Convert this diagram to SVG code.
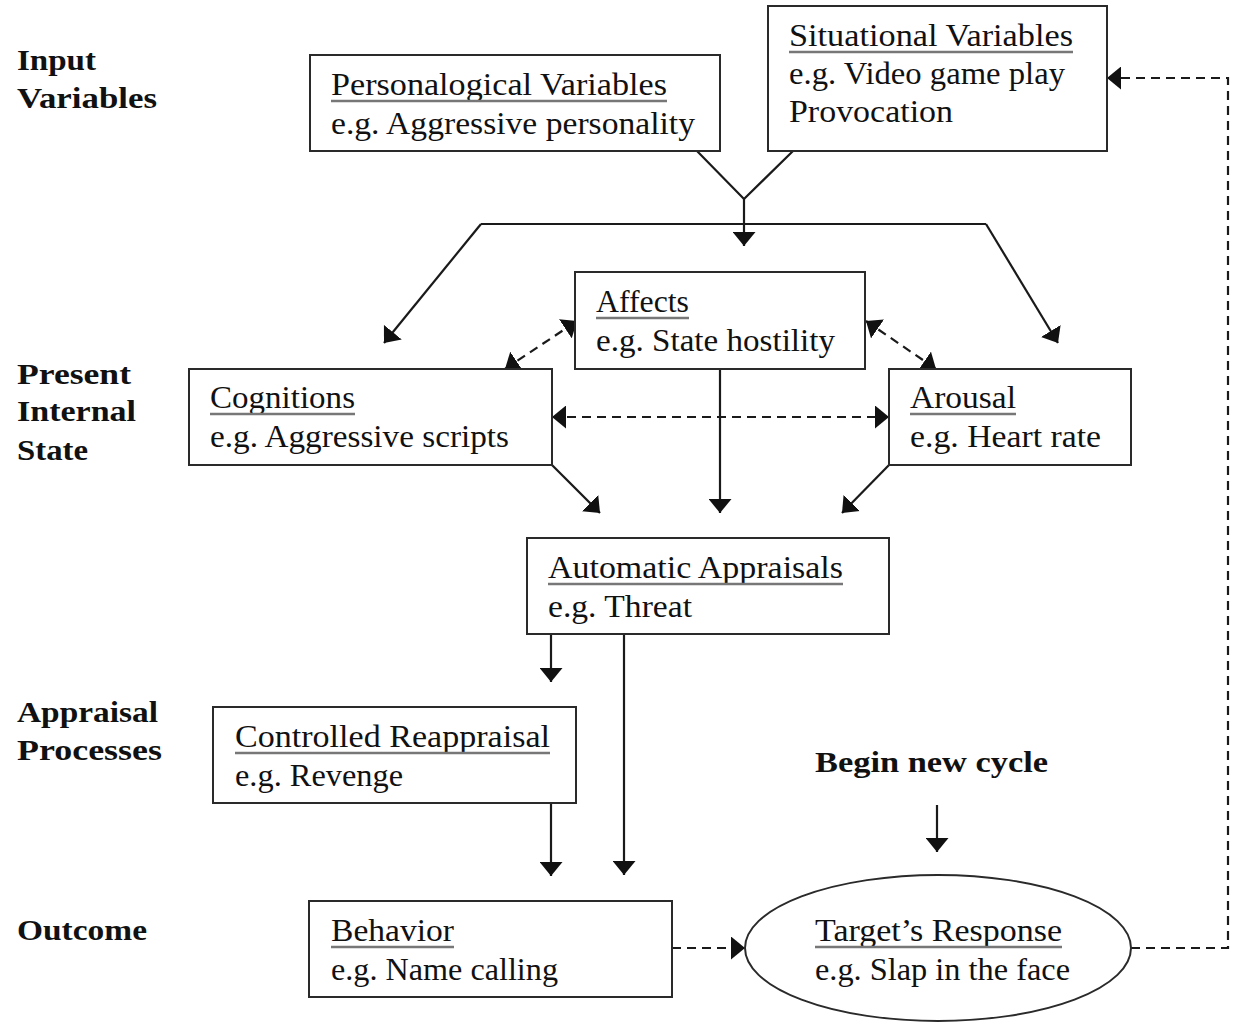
<svg xmlns="http://www.w3.org/2000/svg" width="1235" height="1026" viewBox="0 0 1235 1026">
<style>
.box{fill:#fff;stroke:#2a2a2a;stroke-width:2}
.t{font-family:"Liberation Serif","Times New Roman",serif;font-size:31px;fill:#111}
.b{font-family:"Liberation Serif","Times New Roman",serif;font-size:30px;font-weight:bold;fill:#111}
.ul{stroke:#777;stroke-width:2.5}
.ln{fill:none;stroke:#1a1a1a;stroke-width:2.2}
.ds{fill:none;stroke:#1a1a1a;stroke-width:2.2;stroke-dasharray:9 6}
</style>
<defs>
<marker id="ah" viewBox="0 0 14 23" refX="14" refY="11.5" markerWidth="14" markerHeight="23" markerUnits="userSpaceOnUse" orient="auto-start-reverse">
<path d="M0,0 L14,11.5 L0,23 z" fill="#111"/>
</marker>
</defs>
<rect width="1235" height="1026" fill="#fff"/>

<g id="labels">
<text class="b" x="17" y="70" textLength="79" lengthAdjust="spacingAndGlyphs">Input</text>
<text class="b" x="17" y="108" textLength="140" lengthAdjust="spacingAndGlyphs">Variables</text>
<text class="b" x="17" y="384" textLength="114" lengthAdjust="spacingAndGlyphs">Present</text>
<text class="b" x="17" y="421" textLength="119" lengthAdjust="spacingAndGlyphs">Internal</text>
<text class="b" x="17" y="460" textLength="71" lengthAdjust="spacingAndGlyphs">State</text>
<text class="b" x="17" y="722" textLength="141" lengthAdjust="spacingAndGlyphs">Appraisal</text>
<text class="b" x="17" y="760" textLength="145" lengthAdjust="spacingAndGlyphs">Processes</text>
<text class="b" x="17" y="940" textLength="130" lengthAdjust="spacingAndGlyphs">Outcome</text>
<text class="b" x="815" y="772" textLength="233" lengthAdjust="spacingAndGlyphs">Begin new cycle</text>
</g>

<g id="connectors">
<path class="ln" d="M697,151 L744,199 L793,151"/>
<path class="ln" d="M744,199 L744,246" marker-end="url(#ah)"/>
<path class="ln" d="M481,224 L986,224"/>
<path class="ln" d="M481,224 L384,343" marker-end="url(#ah)"/>
<path class="ln" d="M986,224 L1058,343" marker-end="url(#ah)"/>
<path class="ds" d="M505,369 L577,321" marker-start="url(#ah)" marker-end="url(#ah)"/>
<path class="ds" d="M866,321 L936,369" marker-start="url(#ah)" marker-end="url(#ah)"/>
<path class="ds" d="M552,417 L889,417" marker-start="url(#ah)" marker-end="url(#ah)"/>
<path class="ln" d="M720,369 L720,513" marker-end="url(#ah)"/>
<path class="ln" d="M552,465 L600,513" marker-end="url(#ah)"/>
<path class="ln" d="M889,465 L842,513" marker-end="url(#ah)"/>
<path class="ln" d="M551,634 L551,682" marker-end="url(#ah)"/>
<path class="ln" d="M624,634 L624,875" marker-end="url(#ah)"/>
<path class="ln" d="M551,803 L551,876" marker-end="url(#ah)"/>
<path class="ln" d="M937,805 L937,852" marker-end="url(#ah)"/>
<path class="ds" d="M672,948 L745,948" marker-end="url(#ah)"/>
<path class="ds" d="M1131,948 L1228,948 L1228,78 L1107,78" marker-end="url(#ah)"/>
</g>

<g id="personalogical">
<rect class="box" x="310" y="55" width="410" height="96"/>
<text class="t" x="331" y="95" textLength="336" lengthAdjust="spacingAndGlyphs">Personalogical Variables</text>
<line class="ul" x1="331" y1="101" x2="667" y2="101"/>
<text class="t" x="331" y="134" textLength="364" lengthAdjust="spacingAndGlyphs">e.g. Aggressive personality</text>
</g>

<g id="situational">
<rect class="box" x="768" y="6" width="339" height="145"/>
<text class="t" x="789" y="46" textLength="284" lengthAdjust="spacingAndGlyphs">Situational Variables</text>
<line class="ul" x1="789" y1="52" x2="1073" y2="52"/>
<text class="t" x="789" y="84" textLength="276" lengthAdjust="spacingAndGlyphs">e.g. Video game play</text>
<text class="t" x="789" y="122" textLength="164" lengthAdjust="spacingAndGlyphs">Provocation</text>
</g>

<g id="affects">
<rect class="box" x="575" y="272" width="290" height="97"/>
<text class="t" x="596" y="312" textLength="93" lengthAdjust="spacingAndGlyphs">Affects</text>
<line class="ul" x1="596" y1="318" x2="689" y2="318"/>
<text class="t" x="596" y="351" textLength="239" lengthAdjust="spacingAndGlyphs">e.g. State hostility</text>
</g>

<g id="cognitions">
<rect class="box" x="189" y="369" width="363" height="96"/>
<text class="t" x="210" y="408" textLength="145" lengthAdjust="spacingAndGlyphs">Cognitions</text>
<line class="ul" x1="210" y1="414" x2="355" y2="414"/>
<text class="t" x="210" y="447" textLength="299" lengthAdjust="spacingAndGlyphs">e.g. Aggressive scripts</text>
</g>

<g id="arousal">
<rect class="box" x="889" y="369" width="242" height="96"/>
<text class="t" x="910" y="408" textLength="106" lengthAdjust="spacingAndGlyphs">Arousal</text>
<line class="ul" x1="910" y1="414" x2="1016" y2="414"/>
<text class="t" x="910" y="447" textLength="191" lengthAdjust="spacingAndGlyphs">e.g. Heart rate</text>
</g>

<g id="automatic">
<rect class="box" x="527" y="538" width="362" height="96"/>
<text class="t" x="548" y="578" textLength="295" lengthAdjust="spacingAndGlyphs">Automatic Appraisals</text>
<line class="ul" x1="548" y1="584" x2="843" y2="584"/>
<text class="t" x="548" y="617" textLength="144" lengthAdjust="spacingAndGlyphs">e.g. Threat</text>
</g>

<g id="controlled">
<rect class="box" x="213" y="707" width="363" height="96"/>
<text class="t" x="235" y="747" textLength="315" lengthAdjust="spacingAndGlyphs">Controlled Reappraisal</text>
<line class="ul" x1="235" y1="753" x2="550" y2="753"/>
<text class="t" x="235" y="786" textLength="168" lengthAdjust="spacingAndGlyphs">e.g. Revenge</text>
</g>

<g id="behavior">
<rect class="box" x="309" y="901" width="363" height="96"/>
<text class="t" x="331" y="941" textLength="123" lengthAdjust="spacingAndGlyphs">Behavior</text>
<line class="ul" x1="331" y1="947" x2="454" y2="947"/>
<text class="t" x="331" y="980" textLength="227" lengthAdjust="spacingAndGlyphs">e.g. Name calling</text>
</g>

<g id="target">
<ellipse class="box" cx="938" cy="948" rx="193" ry="73"/>
<text class="t" x="815" y="941" textLength="247" lengthAdjust="spacingAndGlyphs">Target’s Response</text>
<line class="ul" x1="815" y1="947" x2="1062" y2="947"/>
<text class="t" x="815" y="980" textLength="255" lengthAdjust="spacingAndGlyphs">e.g. Slap in the face</text>
</g>
</svg>
